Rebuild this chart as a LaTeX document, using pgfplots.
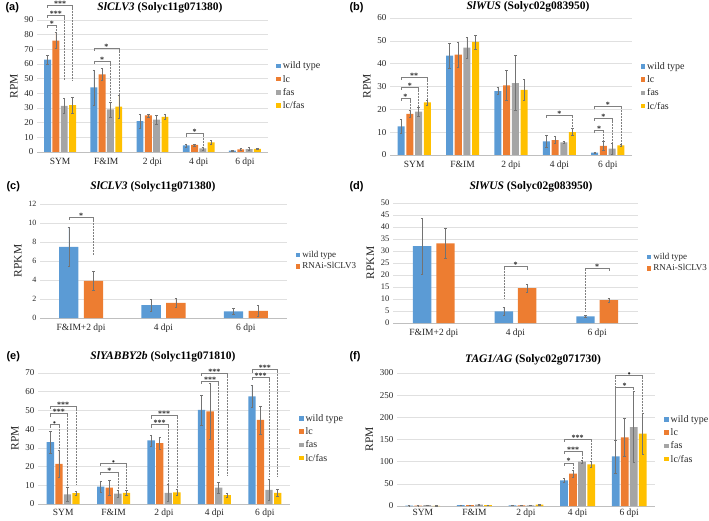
\documentclass[border=0pt]{standalone}
\usepackage{pgfplots}
\pgfplotsset{compat=1.18}
\usepackage{pgfplotstable}
\usepackage{fontspec}
\setmainfont{Liberation Serif}
\newfontfamily\sansb{Liberation Sans}
\usetikzlibrary{calc}
\definecolor{cwt}{HTML}{5B9BD5}
\definecolor{clc}{HTML}{ED7D31}
\definecolor{cfas}{HTML}{A5A5A5}
\definecolor{clf}{HTML}{FFC000}

\pgfplotstableread{
x wt wte lc lce fas fase lf lfe
0 63 3 76 5.5 31.5 5 32 5.5
1 44 12 53 4 29 5 31 8
2 21 5 25 1 22 3 24 2
3 4.5 1 4.8 0.8 2.5 1 6.5 1.5
4 1 0.3 1.8 0.8 2 1 2.2 0.5
}\tA
\pgfplotstableread{
x wt wte lc lce fas fase lf lfe
0 12.5 3 18 1.5 19 2 23 1
1 43.5 5.5 44 5.5 47 4.5 49.5 3
2 28 1.5 30.5 6.5 31.5 12 28.5 4.5
3 6 2.5 6.5 1.5 5.5 0.5 10 1.5
4 1 0.3 4 2 2.8 2.5 4.2 0.5
}\tB
\pgfplotstableread{
x wt wte rn rne
0 7.5 2.1 3.9 1
1 1.35 0.65 1.6 0.45
2 0.7 0.3 0.75 0.6
}\tC
\pgfplotstableread{
x wt wte rn rne
0 32 11.5 33.2 6.2
1 4.8 1.7 14.5 1.5
2 2.8 0.5 9.5 0.9
}\tD
\pgfplotstableread{
x wt wte lc lce fas fase lf lfe
0 33 6 21.5 7 5.2 3.5 5.8 1.2
1 9.3 3 8.7 4 5.5 2 6 1.2
2 34 3 32.5 3 6 4.5 6.2 1.5
3 50.3 8 49.5 15 8.7 3 4.8 1
4 57.5 6 45 7.5 7.5 5.5 6 2
}\tE
\pgfplotstableread{
x wt wte lc lce fas fase lf lfe
0 1 0.3 1 0.3 2 0.5 0.5 0.2
1 2 0.5 2 0.5 3 0.5 2 0.5
2 1.5 0.3 1.5 0.3 1.5 0.3 3 0.5
3 58 5 73 8 100 4 94 7
4 112 37 155 43 178 80 163 47
}\tF

\tikzset{
  brk/.style={draw=black!50, line width=0.5pt},
  star/.style={font=\fontsize{8}{8}\selectfont\bfseries, anchor=base, inner sep=0pt, yshift=-1.2pt, text=black!85},
}
\newcommand{\sig}[6]{%
  \draw[brk] ([yshift=-2.5pt]axis cs:#1,#3) -- (axis cs:#1,#3) -- (axis cs:#2,#3) -- ([yshift=-2.5pt]axis cs:#2,#3);
  \draw[brk,densely dotted] ([yshift=-2.5pt]axis cs:#1,#3) -- (axis cs:#1,#4);
  \draw[brk,densely dotted] ([yshift=-2.5pt]axis cs:#2,#3) -- (axis cs:#2,#5);
  \node[star] at ($(axis cs:#1,#3)!0.5!(axis cs:#2,#3)$) {#6};
}

\pgfplotsset{
  base/.style={
    scale only axis, anchor=south west, ybar, ymin=0, clip=false,
    axis x line*=bottom, axis y line*=left,
    x axis line style={draw=black!25, -},
    y axis line style={draw=none},
    ymajorgrids, grid style={draw=black!12, line width=0.5pt},
    major tick length=0pt, tick style={draw=none},
    /pgf/number format/assume math mode=true,
    yticklabel style={font=\fontsize{9}{9}\selectfont, text=black!85},
    xticklabel style={font=\fontsize{9.5}{9.5}\selectfont, text=black!85, yshift=-2.5pt},
    ylabel style={font=\fontsize{11.5}{11.5}\selectfont, text=black!85},
    legend style={draw=none, fill=none, at={(1.035,0.5)}, anchor=west,
      font=\fontsize{10}{12}\selectfont, row sep=0.8pt, inner sep=0pt, text=black!85},
    legend cell align=left,
  },
  five/.style={xmin=-0.5, xmax=4.5, xtick={0,...,4}, xticklabels={SYM,F\&IM,2 dpi,4 dpi,6 dpi}},
  three/.style={xmin=-0.5, xmax=2.5, xtick={0,1,2}, xticklabels={F\&IM+2 dpi,4 dpi,6 dpi}},
  eb/.style={error bars/y dir=both, error bars/y explicit,
    error bars/error bar style={draw=black!55, line width=0.5pt},
    error bars/error mark options={rotate=90, mark size=1.2pt, draw=black!55, line width=0.5pt}},
  lwt/.style={fill=cwt, draw=none, legend image code/.code={\fill[cwt] (0pt,-2pt) rectangle (4.5pt,2.5pt);}},
  llc/.style={fill=clc, draw=none, legend image code/.code={\fill[clc] (0pt,-2pt) rectangle (4.5pt,2.5pt);}},
  lfas/.style={fill=cfas, draw=none, legend image code/.code={\fill[cfas] (0pt,-2pt) rectangle (4.5pt,2.5pt);}},
  llf/.style={fill=clf, draw=none, legend image code/.code={\fill[clf] (0pt,-2pt) rectangle (4.5pt,2.5pt);}},
}
\newcommand{\ttl}[2]{\fontsize{11.5}{11.5}\selectfont\bfseries\textit{#1} (#2)}

\begin{document}
\begin{tikzpicture}[x=1pt,y=1pt]
\useasboundingbox (0,0) rectangle (709,520);

% (a)
\begin{axis}[base, five, at={(37pt,368pt)}, width=231pt, height=132pt,
  ymax=90, ytick={0,10,...,90}, ylabel={RPM}, bar width=0.15]
\addplot[lwt, bar shift=-0.27, eb] table[x=x,y=wt,y error=wte]{\tA};
\addplot[llc, bar shift=-0.09, eb] table[x=x,y=lc,y error=lce]{\tA};
\addplot[lfas, bar shift=0.09, eb] table[x=x,y=fas,y error=fase]{\tA};
\addplot[llf, bar shift=0.27, eb] table[x=x,y=lf,y error=lfe]{\tA};
\legend{wild type,lc,fas,lc/fas}
\sig{-0.27}{-0.09}{86.6}{86.6}{81.5}{*}
\sig{-0.27}{0.09}{93.4}{93.4}{49}{***}
\sig{-0.27}{0.27}{100.2}{100.2}{49}{***}
\sig{0.73}{1.09}{62}{62}{35.5}{*}
\sig{0.73}{1.27}{70.7}{70.7}{39}{*}
\sig{2.73}{3.09}{12.5}{12.5}{3.5}{*}
\end{axis}

% (b)
\begin{axis}[base, five, at={(390pt,365pt)}, width=242pt, height=137pt,
  ymax=60, ytick={0,10,...,60}, ylabel={RPM}, bar width=0.145]
\addplot[lwt, bar shift=-0.27, eb] table[x=x,y=wt,y error=wte]{\tB};
\addplot[llc, bar shift=-0.09, eb] table[x=x,y=lc,y error=lce]{\tB};
\addplot[lfas, bar shift=0.09, eb] table[x=x,y=fas,y error=fase]{\tB};
\addplot[llf, bar shift=0.27, eb] table[x=x,y=lf,y error=lfe]{\tB};
\legend{wild type,lc,fas,lc/fas}
\sig{-0.27}{-0.09}{24.9}{24.9}{19.5}{*}
\sig{-0.27}{0.09}{29.7}{29.7}{21}{*}
\sig{-0.27}{0.27}{34}{34}{24}{**}
\sig{2.73}{3.27}{17.6}{17.6}{11.5}{*}
\sig{3.73}{3.91}{11}{11}{6}{*}
\sig{3.73}{4.09}{16}{16}{5.3}{*}
\sig{3.73}{4.27}{21.5}{21.5}{4.7}{*}
\end{axis}

% (c)
\begin{axis}[base, three, at={(40pt,202pt)}, width=247pt, height=114pt,
  ymax=12, ytick={0,2,...,12}, ylabel={RPKM}, bar width=0.235,
  yticklabel style={font=\fontsize{8}{8}\selectfont},
  legend style={font=\fontsize{9}{11}\selectfont, row sep=-0.5pt}]
\addplot[lwt, bar shift=-0.15, eb] table[x=x,y=wt,y error=wte]{\tC};
\addplot[llc, bar shift=0.15, eb] table[x=x,y=rn,y error=rne]{\tC};
\legend{wild type,RNAi-SlCLV3}
\sig{-0.15}{0.15}{10.6}{10.6}{6.7}{*}
\end{axis}

% (d)
\begin{axis}[base, three, at={(393pt,197pt)}, width=245pt, height=120pt,
  ymax=50, ytick={0,5,...,50}, ylabel={RPKM}, bar width=0.225,
  yticklabel style={font=\fontsize{8.5}{8.5}\selectfont},
  legend style={font=\fontsize{9}{11}\selectfont, row sep=-0.5pt}]
\addplot[lwt, bar shift=-0.143, eb] table[x=x,y=wt,y error=wte]{\tD};
\addplot[llc, bar shift=0.143, eb] table[x=x,y=rn,y error=rne]{\tD};
\legend{wild type,RNAi-SlCLV3}
\sig{0.857}{1.143}{23.5}{10}{23.5}{*}
\sig{1.857}{2.143}{23}{5}{23}{*}
\end{axis}

% (e)
\begin{axis}[base, five, at={(38pt,16pt)}, width=252pt, height=131pt,
  ymax=70, ytick={0,10,...,70}, ylabel={RPM}, bar width=0.145,
  xticklabel style={yshift=1pt}]
\addplot[lwt, bar shift=-0.255, eb] table[x=x,y=wt,y error=wte]{\tE};
\addplot[llc, bar shift=-0.085, eb] table[x=x,y=lc,y error=lce]{\tE};
\addplot[lfas, bar shift=0.085, eb] table[x=x,y=fas,y error=fase]{\tE};
\addplot[llf, bar shift=0.255, eb] table[x=x,y=lf,y error=lfe]{\tE};
\legend{wild type,lc,fas,lc/fas}
\sig{-0.255}{-0.085}{42.4}{42.4}{29}{\textbullet}
\sig{-0.255}{0.085}{48.3}{48.3}{10}{***}
\sig{-0.255}{0.255}{52.2}{52.2}{10}{***}
\sig{0.745}{1.085}{17.1}{17.1}{8}{*}
\sig{0.745}{1.255}{21.9}{21.9}{8}{\textbullet}
\sig{1.745}{2.085}{42.4}{42.4}{11}{***}
\sig{1.745}{2.255}{47.2}{47.2}{8}{***}
\sig{2.745}{3.085}{65.5}{65.5}{15}{***}
\sig{2.745}{3.255}{70}{70}{15}{***}
\sig{3.745}{4.085}{67.7}{67.7}{15}{***}
\sig{3.745}{4.255}{71.8}{71.8}{15}{***}
\end{axis}

% (f)
\begin{axis}[base, five, at={(397pt,14pt)}, width=258pt, height=133pt,
  ymax=300, ytick={0,50,...,300}, ylabel={RPM}, bar width=0.15,
  xticklabel style={yshift=3pt}]
\addplot[lwt, bar shift=-0.2625, eb] table[x=x,y=wt,y error=wte]{\tF};
\addplot[llc, bar shift=-0.0875, eb] table[x=x,y=lc,y error=lce]{\tF};
\addplot[lfas, bar shift=0.0875, eb] table[x=x,y=fas,y error=fase]{\tF};
\addplot[llf, bar shift=0.2625, eb] table[x=x,y=lf,y error=lfe]{\tF};
\legend{wild type,lc,fas,lc/fas}
\sig{2.7375}{2.9125}{97.5}{97.5}{82}{*}
\sig{2.7375}{3.0875}{123.8}{123.8}{105}{***}
\sig{2.7375}{3.2625}{151.5}{151.5}{102}{***}
\sig{3.7375}{4.0875}{268.5}{150}{268.5}{*}
\sig{3.7375}{4.2625}{294}{150}{210}{\textbullet}
\end{axis}

% titles and panel letters
\node[font=\sansb\fontsize{11}{11}\selectfont\bfseries, anchor=west] at (2,512) {(a)};
\node at (160,512) {\ttl{SlCLV3}{Solyc11g071380}};
\node[font=\sansb\fontsize{11}{11}\selectfont\bfseries, anchor=west] at (346,512) {(b)};
\node at (528,513) {\ttl{SlWUS}{Solyc02g083950}};
\node[font=\sansb\fontsize{11}{11}\selectfont\bfseries, anchor=west] at (3,333) {(c)};
\node at (153,333) {\ttl{SlCLV3}{Solyc11g071380}};
\node[font=\sansb\fontsize{11}{11}\selectfont\bfseries, anchor=west] at (346,333) {(d)};
\node at (531,333) {\ttl{SlWUS}{Solyc02g083950}};
\node[font=\sansb\fontsize{11}{11}\selectfont\bfseries, anchor=west] at (3,163) {(e)};
\node at (163,163) {\ttl{SlYABBY2b}{Solyc11g071810}};
\node[font=\sansb\fontsize{11}{11}\selectfont\bfseries, anchor=west] at (346,163) {(f)};
\node at (533,160) {\ttl{TAG1/AG}{Solyc02g071730}};
\end{tikzpicture}
\end{document}
